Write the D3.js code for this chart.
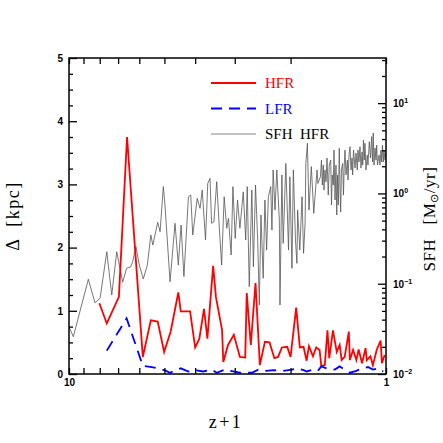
<!DOCTYPE html>
<html><head><meta charset="utf-8">
<script src="https://cdn.jsdelivr.net/npm/d3@7"></script>
<style>
html,body{margin:0;padding:0;background:#fff;}
svg{display:block;}
</style></head>
<body>
<svg id="chart" width="443" height="443"></svg>
<script>
// ---- data ----
const hfrZ = [8.02,7.60,6.96,6.56,5.85,5.52,5.25,5.01,4.78,4.52,4.44,4.15,4.00,3.88,3.75,3.66,3.51,3.44,3.29,3.26,3.15,3.02,2.89,2.78,2.75,2.67,2.58,2.50,2.41,2.33,2.25,2.19,2.13,2.05,2.00,1.92,1.87,1.82,1.78,1.75,1.70,1.66,1.62,1.60,1.56,1.53,1.51,1.47,1.43,1.40,1.38,1.35,1.31,1.30,1.27,1.24,1.22,1.19,1.16,1.15,1.12,1.10,1.07,1.04,1.03,1.01];
const hfrD = [1.12,0.80,1.22,3.75,0.27,0.85,0.83,0.35,0.67,1.29,0.99,0.99,0.42,0.56,1.03,0.56,1.71,1.22,0.70,0.19,0.46,0.62,0.27,0.26,1.28,0.46,1.44,0.14,0.51,0.50,0.25,0.27,0.42,0.43,0.27,1.05,0.42,0.43,0.21,0.44,0.28,0.42,0.38,0.13,0.14,0.69,0.25,0.69,0.35,0.46,0.22,0.27,0.67,0.22,0.38,0.22,0.39,0.17,0.41,0.22,0.28,0.14,0.38,0.53,0.17,0.30];

const lfrZ = [7.60,6.58,5.85,5.48,5.16,4.94,4.80,4.44,4.20,4.00,3.77,3.55,3.42,3.22,3.03,2.89,2.65,2.53,2.38,2.27,2.11,1.98,1.91,1.82,1.78,1.70,1.64,1.60,1.54,1.45,1.40,1.35,1.30,1.24,1.19,1.14,1.10,1.06,1.02];
const lfrD = [0.37,0.88,0.13,0.11,0.08,0.05,0.02,0.09,0.04,0.06,0.04,0.07,0.02,0.07,0.04,0.02,0.02,0.07,0.05,0.06,0.05,0.07,0.09,0.06,0.04,0.07,0.05,0.12,0.09,0.07,0.12,0.07,0.02,0.05,0.09,0.11,0.07,0.09,0.04];

const sfhZ = [10.0,9.69,8.69,8.28,7.98,7.60,7.33,7.07,6.77,6.58,
  6.39,6.30,6.15,6.00,5.83,5.66,5.52,5.44,5.25,5.16,
  5.04,4.98,4.80,4.63,4.52,4.43,4.34,4.20,4.13,4.07,
  3.94,3.86,3.80,3.71,3.65,3.59,3.55,3.49,3.42,3.36,
  3.30,3.24,3.18,3.14,3.08,3.04,2.99,2.94,2.89,2.82,
  2.77,2.74,2.70,2.65,2.62,2.58,2.54,2.51,2.48,2.44,
  2.41,2.38,2.35,2.31,2.29,2.27,2.24,2.21,2.17,2.16,
  2.13,2.11,2.07,2.03,2.01,1.98,1.96,1.93,1.91,1.90,
  1.87,1.84,1.82,1.80,1.79,1.77,1.75,1.72,1.69,1.65,
  1.64,1.61,
  1.598,1.588,1.577,1.569,1.558,1.546,1.535,1.521,1.510,1.494,
  1.486,1.477,1.466,1.459,1.448,1.438,1.430,1.422,1.414,1.404,
  1.397,1.390,1.382,1.370,1.362,1.354,1.347,1.337,1.324,1.318,
  1.308,1.299,1.289,1.280,1.274,1.266,1.252,1.243,1.232,1.226,
  1.217,1.208,1.199,1.190,1.184,1.178,1.171,1.165,1.157,1.146,
  1.140,1.129,1.119,1.110,1.103,1.097,1.091,1.083,1.075,1.070,
  1.064,1.052,1.045,1.037,1.032,1.026,1.020,1.015,1.007,1.000];
const sfhV = [0.0334,0.0259,0.112,0.0616,0.0689,0.226,0.0749,0.226,0.104,0.148,
  0.154,0.175,0.257,0.161,0.113,0.161,0.346,0.268,0.479,0.377,
  1.19,0.744,0.105,0.467,0.161,0.447,0.120,0.919,0.960,0.346,
  0.882,0.684,1.09,0.305,1.29,1.47,0.467,0.486,1.35,0.447,
  0.161,0.919,0.411,0.530,0.208,1.19,0.318,0.845,0.411,1.04,
  0.305,1.19,0.0926,1.09,0.154,1.24,0.305,0.0581,0.577,0.115,
  0.845,0.236,0.919,1.19,0.393,1.82,0.655,1.82,0.507,0.0581,
  1.60,0.280,2.15,0.236,1.53,0.148,1.82,0.305,0.168,0.655,
  0.236,0.919,0.217,0.467,2.15,3.59,0.655,1.98,0.602,1.82,
  1.29,1.53,
  2.34,1.24,2.06,1.09,1.82,1.34,2.47,0.96,2.06,2.34,
  0.744,1.60,1.24,3.02,0.845,2.06,0.577,1.60,0.744,3.16,
  1.24,0.622,1.82,2.15,0.96,2.06,3.02,1.60,2.34,1.41,
  2.66,3.29,1.82,2.47,1.60,3.02,1.91,2.80,1.82,3.02,
  2.23,3.29,1.91,2.87,2.06,3.90,2.34,3.59,1.82,2.66,
  2.06,3.74,2.47,4.25,2.23,4.67,2.06,3.18,2.34,3.43,
  2.06,2.66,2.06,3.02,2.23,3.43,2.23,3.02,2.34,3.02];

const xTicks = [10,9,8,7,6,5,4,3,2,1];
const xTickLabels = {10:"10", 1:"1"};
const yLeftMajor = [0,1,2,3,4,5];
const yRightMajor = [0.01,0.1,1,10];
const yRightExp = ["−2","−1","0","1"];
const legendItems = [
  {name:"HFR", color:"#ff0000", text:"#ff0000", dash:null, w:1.8},
  {name:"LFR", color:"#0000ff", text:"#0000ff", dash:"11,7", w:1.8},
  {name:"SFH  HFR", color:"#666", text:"#000", dash:null, w:0.8}
];

// ---- layout ----
const L = 69, R = 386, T = 58, B = 374;
const svg = d3.select("#chart");
const x = d3.scaleLog().domain([10,1]).range([L,R]);
const yL = d3.scaleLinear().domain([0,5]).range([B,T]);
const yR = d3.scaleLog().domain([0.01, Math.pow(10,1.5)]).range([B,T]);

const tickFont = "'Liberation Sans', Arial, sans-serif";
const serif = "'Liberation Serif', 'Times New Roman', serif";

svg.append("defs").append("clipPath").attr("id","clip")
  .append("rect").attr("x",L).attr("y",T).attr("width",R-L).attr("height",B-T);

// ---- lines ----
const g = svg.append("g").attr("clip-path","url(#clip)");
const sfhData = sfhZ.map((z,i)=>[z,sfhV[i]]);
g.append("path").datum(sfhData)
  .attr("fill","none").attr("stroke","#555").attr("stroke-width",0.8)
  .attr("d", d3.line().x(d=>x(d[0])).y(d=>yR(d[1])));

const hfrData = hfrZ.map((z,i)=>[z,hfrD[i]]);
g.append("path").datum(hfrData)
  .attr("fill","none").attr("stroke","#ff0000").attr("stroke-width",1.8)
  .attr("d", d3.line().x(d=>x(d[0])).y(d=>yL(d[1])));

const lfrData = lfrZ.map((z,i)=>[z,lfrD[i]]);
g.append("path").datum(lfrData)
  .attr("fill","none").attr("stroke","#0000ff").attr("stroke-width",1.8)
  .attr("stroke-dasharray","11,7")
  .attr("d", d3.line().x(d=>x(d[0])).y(d=>yL(d[1])));

// ---- axes ----
function styleAxis(sel){
  sel.select(".domain").remove();
  sel.selectAll(".tick line").attr("stroke","#000").attr("stroke-width",1.3);
  sel.selectAll(".tick text").attr("font-family",tickFont).attr("font-weight","bold")
     .attr("font-size",10).attr("fill","#000");
}
svg.append("g").attr("transform",`translate(0,${B})`)
  .call(d3.axisBottom(x).tickValues(xTicks).tickSize(-6).tickPadding(5)
    .tickFormat(d=>xTickLabels[d]||""))
  .call(styleAxis);
svg.append("g").attr("transform",`translate(0,${T})`)
  .call(d3.axisTop(x).tickValues(xTicks).tickSize(-6).tickFormat(""))
  .call(styleAxis);
svg.append("g").attr("transform",`translate(${L},0)`)
  .call(d3.axisLeft(yL).tickValues(yLeftMajor).tickSize(-8).tickPadding(6).tickFormat(d3.format("d")))
  .call(styleAxis);
svg.append("g").attr("transform",`translate(${L},0)`)
  .call(d3.axisLeft(yL).tickValues(d3.range(0,5.01,0.25).filter(v=>Math.abs(v-Math.round(v))>0.01))
    .tickSize(-4).tickFormat(""))
  .call(styleAxis);
svg.append("g").attr("transform",`translate(${R},0)`)
  .call(d3.axisRight(yR).tickValues(yRightMajor).tickSize(-8).tickFormat(""))
  .call(styleAxis);
const rMinor = [];
[0.01,0.1,1,10].forEach(b=>{ for(let k=2;k<=9;k++){ const v=b*k; if(v<=Math.pow(10,1.5)) rMinor.push(v);} });
svg.append("g").attr("transform",`translate(${R},0)`)
  .call(d3.axisRight(yR).tickValues(rMinor).tickSize(-4).tickFormat(""))
  .call(styleAxis);
yRightMajor.forEach((v,i)=>{
  const t = svg.append("text").attr("x",R+7).attr("y",yR(v)+4)
    .attr("font-family",tickFont).attr("font-weight","bold").attr("font-size",10).attr("fill","#000");
  t.append("tspan").text("10");
  t.append("tspan").attr("dy",-4).attr("font-size",7).text(yRightExp[i]);
});

svg.append("rect").attr("x",L).attr("y",T).attr("width",R-L).attr("height",B-T)
  .attr("fill","none").attr("stroke","#000").attr("stroke-width",1.5);

// ---- axis titles ----
svg.append("text").attr("transform",`translate(19,216) rotate(-90)`)
  .attr("text-anchor","middle").attr("font-family",serif).attr("font-size",18).attr("fill","#000")
  .attr("letter-spacing",1.5).style("white-space","pre")
  .text("Δ  [kpc]");
const rt = svg.append("text").attr("transform",`translate(435,219) rotate(-90)`)
  .attr("text-anchor","middle").attr("font-family",serif).attr("font-size",17).attr("fill","#000")
  .attr("letter-spacing",0.5).style("white-space","pre");
rt.append("tspan").text("SFH   [M");
rt.append("tspan").attr("font-size",11).attr("dy",3).text("⊙");
rt.append("tspan").attr("dy",-3).text("/yr]");
svg.append("text").attr("x",226).attr("y",428).attr("text-anchor","middle")
  .attr("font-family",serif).attr("font-size",18).attr("letter-spacing",2.5).attr("fill","#000").text("z+1");

// ---- legend ----
const lg = svg.append("g");
legendItems.forEach((it,i)=>{
  const yy = 83 + i*25.5;
  const ln = lg.append("line").attr("x1",211).attr("x2",256).attr("y1",yy).attr("y2",yy)
    .attr("stroke",it.color).attr("stroke-width",it.w);
  if(it.dash) ln.attr("stroke-dasharray",it.dash);
  lg.append("text").attr("x",265).attr("y",yy+5).attr("font-family",serif).attr("font-size",15)
    .attr("fill",it.text).style("white-space","pre").text(it.name);
});
</script>
</body></html>
